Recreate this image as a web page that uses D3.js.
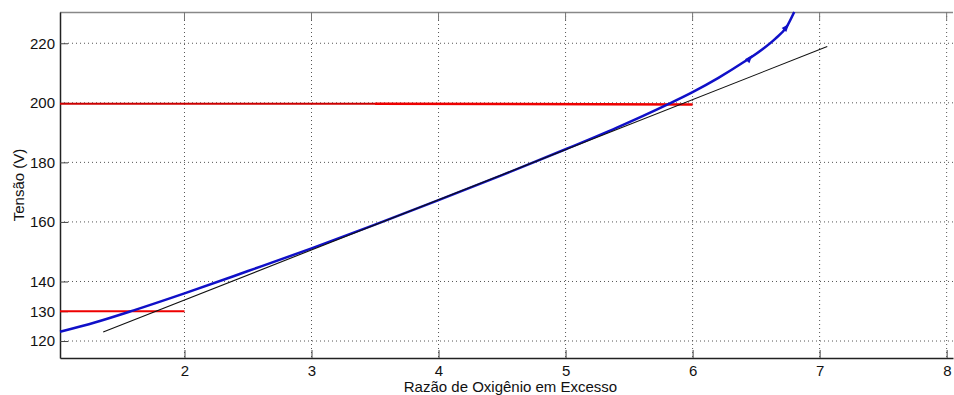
<!DOCTYPE html>
<html>
<head>
<meta charset="utf-8">
<script src="https://cdn.jsdelivr.net/npm/d3@7"></script>
<style>
  body { margin: 0; background: #fff; }
  svg { font-family: 'Liberation Sans', Arial, sans-serif; }
</style>
</head>
<body>
<div id="chart"></div>
<script>
// curva de tensão (azul)
const razao = [1.02, 1.3, 1.6, 2.0, 2.5, 3.0, 3.5, 4.0, 4.5, 5.0, 5.4, 5.8, 6.0, 6.2, 6.4, 6.55, 6.65, 6.74, 6.8]
const tensao = [123.1, 126.3, 130.3, 136.0, 143.5, 151.1, 159.1, 167.3, 175.7, 184.4, 191.6, 199.4, 203.6, 208.3, 213.6, 218.0, 221.5, 225.5, 230.5]

// setas sobre a curva
const setaX = [6.45, 6.74]
const setaY = [215.0, 225.5]

// reta tangente (preta)
const retaX = [1.36, 7.06]
const retaY = [123.0, 218.9]

// limites (vermelho)
const limSupX = [1.02, 3.5, 6.0]
const limSupY = [199.7, 199.7, 199.4]
const limInfX = [1.02, 2.0]
const limInfY = [130, 130]

const xTicks = [2, 3, 4, 5, 6, 7, 8]
const yTicks = [120, 130, 140, 160, 180, 200, 220]
const yGrid = [120, 140, 160, 180, 200, 220]

const width = 954
const height = 395
const margin = { top: 12, right: 1, bottom: 37, left: 60 }

const svg = d3.select('#chart').append('svg')
  .attr('width', width)
  .attr('height', height)

const x = d3.scaleLinear().domain([1.02, 8.05]).range([margin.left, width - margin.right])
const y = d3.scaleLinear().domain([114.3, 230.5]).range([height - margin.bottom, margin.top])

// grade pontilhada
svg.append('g').selectAll('line').data(xTicks).join('line')
  .attr('x1', d => x(d)).attr('x2', d => x(d))
  .attr('y1', y.range()[1]).attr('y2', y.range()[0])
  .attr('stroke', '#555').attr('stroke-width', 1).attr('stroke-dasharray', '1,3')
svg.append('g').selectAll('line').data(yGrid).join('line')
  .attr('x1', x.range()[0]).attr('x2', x.range()[1])
  .attr('y1', d => y(d)).attr('y2', d => y(d))
  .attr('stroke', '#555').attr('stroke-width', 1).attr('stroke-dasharray', '1,3')

// moldura superior
svg.append('line')
  .attr('x1', x.range()[0]).attr('x2', x.range()[1])
  .attr('y1', y.range()[1] + 0.5).attr('y2', y.range()[1] + 0.5)
  .attr('stroke', '#888').attr('stroke-width', 1.5)
svg.append('g').selectAll('line').data(xTicks).join('line')
  .attr('x1', d => x(d)).attr('x2', d => x(d))
  .attr('y1', y.range()[1]).attr('y2', y.range()[1] + 8)
  .attr('stroke', '#777')

// eixos
const xAxis = d3.axisBottom(x).tickValues(xTicks).tickFormat(d3.format('d'))
  .tickSizeInner(-8).tickSizeOuter(0).tickPadding(7)
const yAxis = d3.axisLeft(y).tickValues(yTicks).tickFormat(d3.format('d'))
  .tickSizeInner(-8).tickSizeOuter(0).tickPadding(5)

const gx = svg.append('g').attr('transform', `translate(0,${y.range()[0]})`).call(xAxis)
const gy = svg.append('g').attr('transform', `translate(${x.range()[0]},0)`).call(yAxis)
gx.select('.domain').attr('stroke', '#222').attr('stroke-width', 1.5)
gy.select('.domain').attr('stroke', '#222').attr('stroke-width', 1.5)
gx.selectAll('.tick line').attr('stroke', '#444')
gy.selectAll('.tick line').attr('stroke', '#444')
gx.selectAll('text').attr('font-size', 15).attr('fill', '#111').attr('font-family', null)
gy.selectAll('text').attr('font-size', 15).attr('fill', '#111').attr('font-family', null)
// o rótulo 8 fica junto à borda direita
gx.selectAll('.tick text').filter(d => d === 8).attr('text-anchor', 'end').attr('dx', '0.3em')

// limites vermelhos
const linha = (xs, ys) => d3.line().x((d, i) => x(xs[i])).y((d, i) => y(ys[i]))(xs)
svg.append('path').attr('d', linha(limSupX.slice(0, 2), limSupY.slice(0, 2)))
  .attr('fill', 'none').attr('stroke', '#c00').attr('stroke-width', 2)
svg.append('path').attr('d', linha(limSupX.slice(1), limSupY.slice(1)))
  .attr('fill', 'none').attr('stroke', '#e00').attr('stroke-width', 2.5)
svg.append('path').attr('d', linha(limInfX, limInfY))
  .attr('fill', 'none').attr('stroke', '#e00').attr('stroke-width', 2)

// curva azul
const curva = d3.line().curve(d3.curveMonotoneX)
  .x((d, i) => x(razao[i])).y((d, i) => y(tensao[i]))
svg.append('path').attr('d', curva(razao))
  .attr('fill', 'none').attr('stroke', '#1010c8').attr('stroke-width', 2.5)

// setas
svg.append('g').selectAll('path').data(setaX).join('path')
  .attr('d', 'M-4,-3L4,0L-4,3Z')
  .attr('transform', (d, i) => {
    const ang = Math.atan2(y(setaY[i] + 1.5) - y(setaY[i]), x(d + 0.03) - x(d)) * 180 / Math.PI
    return `translate(${x(d)},${y(setaY[i])}) rotate(${ang})`
  })
  .attr('fill', '#1010c8')

// reta preta
svg.append('path').attr('d', linha(retaX, retaY))
  .attr('fill', 'none').attr('stroke', '#111').attr('stroke-width', 1.1)

// rótulos
svg.append('text')
  .attr('x', (x.range()[0] + x.range()[1]) / 2 + 4).attr('y', 392)
  .attr('text-anchor', 'middle').attr('font-size', 15).attr('fill', '#111')
  .text('Razão de Oxigênio em Excesso')
svg.append('text')
  .attr('transform', `translate(24,${(y.range()[0] + y.range()[1]) / 2}) rotate(-90)`)
  .attr('text-anchor', 'middle').attr('font-size', 15).attr('fill', '#111')
  .text('Tensão (V)')
</script>
</body>
</html>
